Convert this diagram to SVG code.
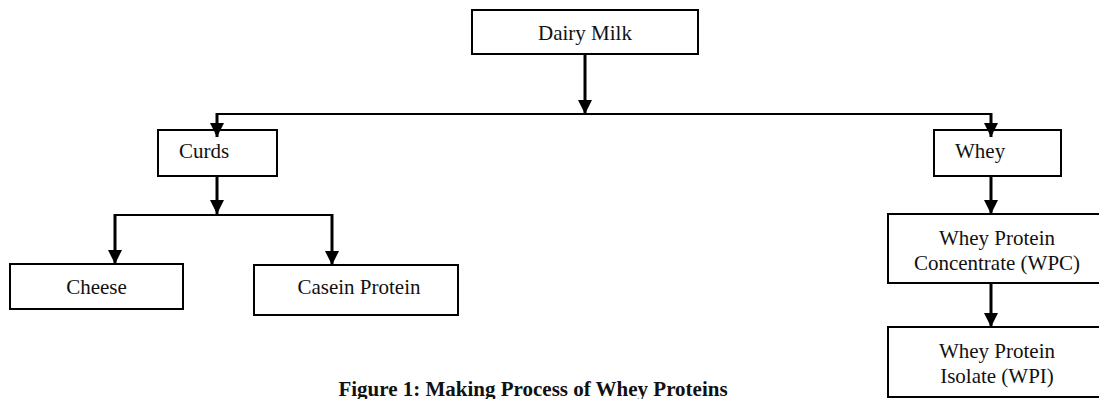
<svg xmlns="http://www.w3.org/2000/svg" width="1099" height="399" viewBox="0 0 1099 399">
<style>
.box{fill:#fff;stroke:#000;stroke-width:2}
.t{font-family:"Liberation Serif","Times New Roman",serif;font-size:21px;fill:#111}
.ln{fill:none;stroke:#000;stroke-width:2}
.ar{fill:none;stroke:#000;stroke-width:3}
.cap{font-family:"Liberation Serif","Times New Roman",serif;font-size:21px;font-weight:bold;fill:#111}
</style>
<defs>
<marker id="ah" markerUnits="userSpaceOnUse" markerWidth="14" markerHeight="14" viewBox="0 0 14 14" refX="14" refY="7" orient="auto">
<path d="M0,0 L14,7 L0,14 Z" fill="#000"/>
</marker>
</defs>
<rect width="1099" height="399" fill="#fff"/>
<g id="n-dairy"><rect class="box" x="472" y="10" width="226" height="44"/><text class="t" x="585" y="40" text-anchor="middle">Dairy Milk</text></g>
<g id="n-curds"><rect class="box" x="158" y="130" width="119" height="46"/><text class="t" x="179" y="158">Curds</text></g>
<g id="n-whey"><rect class="box" x="934" y="130" width="127" height="46"/><text class="t" x="955" y="158">Whey</text></g>
<g id="n-cheese"><rect class="box" x="10" y="264" width="173" height="45"/><text class="t" x="96.5" y="294" text-anchor="middle">Cheese</text></g>
<g id="n-casein"><rect class="box" x="254" y="265" width="204" height="50"/><text class="t" x="359" y="294" text-anchor="middle">Casein Protein</text></g>
<g id="n-wpc"><rect class="box" x="888" y="214" width="220" height="69"/><text class="t" x="997" y="245" text-anchor="middle">Whey Protein</text><text class="t" x="997" y="270" text-anchor="middle">Concentrate (WPC)</text></g>
<g id="n-wpi"><rect class="box" x="888" y="327" width="220" height="70"/><text class="t" x="997" y="358" text-anchor="middle">Whey Protein</text><text class="t" x="997" y="383" text-anchor="middle">Isolate (WPI)</text></g>
<g id="connectors">
<line class="ar" x1="585" y1="54" x2="585" y2="114" marker-end="url(#ah)"/>
<line class="ln" x1="217" y1="114" x2="991" y2="114"/>
<line class="ar" x1="217" y1="113" x2="217" y2="137" marker-end="url(#ah)"/>
<line class="ar" x1="991" y1="113" x2="991" y2="137" marker-end="url(#ah)"/>
<line class="ar" x1="217" y1="176" x2="217" y2="214" marker-end="url(#ah)"/>
<line class="ln" x1="115" y1="215" x2="332" y2="215"/>
<line class="ar" x1="115" y1="214" x2="115" y2="264" marker-end="url(#ah)"/>
<line class="ar" x1="332" y1="214" x2="332" y2="265" marker-end="url(#ah)"/>
<line class="ar" x1="991" y1="176" x2="991" y2="214" marker-end="url(#ah)"/>
<line class="ar" x1="991" y1="283" x2="991" y2="327" marker-end="url(#ah)"/>
</g>
<text class="cap" x="533" y="396" text-anchor="middle">Figure 1: Making Process of Whey Proteins</text>
</svg>
